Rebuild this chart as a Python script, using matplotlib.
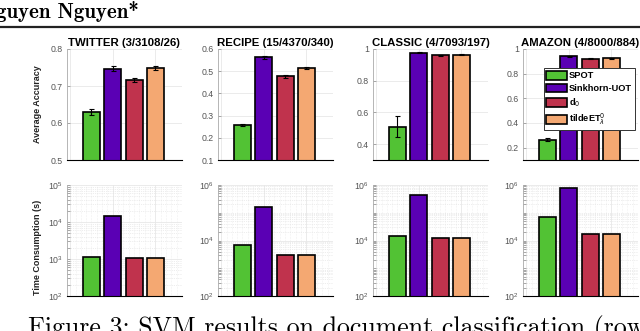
import matplotlib.pyplot as plt
import numpy as np
from matplotlib.lines import Line2D
from matplotlib.patches import Patch
from matplotlib.ticker import FixedLocator, LogLocator, NullFormatter, FormatStrFormatter

plt.rcParams['font.family'] = ['Liberation Sans', 'DejaVu Sans']

titles = ['TWITTER (3/3108/26)', 'RECIPE (15/4370/340)', 'CLASSIC (4/7093/197)', 'AMAZON (4/8000/884)']
methods = ['SPOT', 'Sinkhorn-UOT', r'd$_0$', r'tildeET$^0_\lambda$']
colors = ['#52c234', '#5a00b4', '#c0334d', '#f4a872']

# accuracy (mean, std)
acc_twitter = [0.630, 0.747, 0.716, 0.749]
err_twitter = [0.008, 0.006, 0.005, 0.005]
acc_recipe = [0.257, 0.562, 0.477, 0.515]
err_recipe = [0.006, 0.005, 0.008, 0.004]
acc_classic = [0.51, 0.975, 0.962, 0.965]
err_classic = [0.068, 0.003, 0.003, 0.002]
acc_amazon = [0.265, 0.940, 0.922, 0.925]
err_amazon = [0.012, 0.004, 0.004, 0.004]

# time consumption (s)
t_twitter = [1150, 14500, 1090, 1090]
t_recipe = [6800, 160000, 3100, 3100]
t_classic = [14700, 440000, 12500, 12500]
t_amazon = [72000, 780000, 16500, 16500]

acc_all = [acc_twitter, acc_recipe, acc_classic, acc_amazon]
err_all = [err_twitter, err_recipe, err_classic, err_amazon]
t_all = [t_twitter, t_recipe, t_classic, t_amazon]
acc_lims = [(0.5, 0.8), (0.1, 0.6), (0.3, 1.0), (0.1, 1.0)]
acc_ticks = [[0.5, 0.6, 0.7, 0.8], [0.1, 0.2, 0.3, 0.4, 0.5, 0.6],
             [0.4, 0.6, 0.8, 1.0], [0.2, 0.4, 0.6, 0.8, 1.0]]
t_lims = [(1e2, 1e5), (1e2, 1e6), (1e2, 1e6), (1e2, 1e6)]
t_ticks = [[1e2, 1e3, 1e4, 1e5], [1e2, 1e4, 1e6], [1e2, 1e4, 1e6], [1e2, 1e4, 1e6]]

W, H = 640, 331
fig = plt.figure(figsize=(6.4, 3.31), dpi=100)

lefts = [67, 218, 373, 523]
aw = 115
top_row = (49, 160)
bot_row = (185, 296)
x = np.arange(1, 5)


def make_ax(left, rows):
    t, b = rows
    return fig.add_axes([left / W, (H - b) / H, aw / W, (b - t) / H])


def style(ax):
    ax.set_xlim(-0.15, 5.25)
    ax.set_xticks([0, 2, 4])
    ax.set_xticklabels([])
    ax.tick_params(axis='x', length=0)
    ax.tick_params(axis='y', which='both', direction='in', length=2, width=0.5,
                   color='#888888', labelsize=6.3, labelcolor='#555555', pad=3)
    for s in ['top', 'right']:
        ax.spines[s].set_visible(False)
    ax.spines['left'].set_color('#aaaaaa')
    ax.spines['left'].set_linewidth(0.6)
    ax.spines['bottom'].set_color('black')
    ax.spines['bottom'].set_linewidth(0.8)
    ax.set_axisbelow(True)


for i in range(4):
    ax = make_ax(lefts[i], top_row)
    style(ax)
    ax.grid(True, color='#e8e8e8', lw=0.6)
    ax.bar(x, acc_all[i], width=0.8, color=colors, edgecolor='black', lw=1.2,
           yerr=err_all[i], error_kw=dict(ecolor='black', elinewidth=0.8, capsize=1.8, capthick=0.8))
    ax.set_ylim(*acc_lims[i])
    ax.set_yticks(acc_ticks[i])
    ax.yaxis.set_major_formatter(FormatStrFormatter('%g'))
    ax.set_title(titles[i], fontsize=8.2, fontweight='bold', pad=2.5)
    if i == 0:
        ax.set_ylabel('Average Accuracy', fontsize=6.5, fontweight='bold', color='#222222')
        ax.yaxis.set_label_coords(-0.215, 0.5)
    if i == 3:
        handles = [Patch(facecolor=c, edgecolor='black', lw=1.2) for c in colors]
        leg = ax.legend(handles, methods, loc='upper right', bbox_to_anchor=(0.97, 0.83),
                        borderaxespad=0, fancybox=False, framealpha=1, edgecolor='#333333',
                        prop=dict(size=6.7, weight='bold'), handlelength=2.2, handleheight=1.1,
                        handletextpad=0.2, labelspacing=0.35, borderpad=0.3)
        leg.get_frame().set_linewidth(0.7)

for i in range(4):
    ax = make_ax(lefts[i], bot_row)
    style(ax)
    ax.bar(x, t_all[i], width=0.8, color=colors, edgecolor='black', lw=1.2)
    ax.set_yscale('log')
    ax.set_ylim(*t_lims[i])
    ax.yaxis.set_major_locator(FixedLocator(t_ticks[i]))
    ax.yaxis.set_minor_locator(LogLocator(base=10, subs=np.arange(1, 10)))
    ax.yaxis.set_minor_formatter(NullFormatter())
    ax.grid(True, which='major', color='#e8e8e8', lw=0.6)
    ax.grid(True, which='minor', axis='y', color='#dddddd', lw=0.5, ls=':')
    ax.set_xticks(np.arange(0, 5.25, 0.25), minor=True)
    ax.grid(True, which='minor', axis='x', color='#e4e4e4', lw=0.4, ls=':')
    ax.tick_params(axis='x', which='minor', length=0)
    if i == 0:
        ax.set_ylabel('Time Consumption (s)', fontsize=6.5, fontweight='bold', color='#222222')
        ax.yaxis.set_label_coords(-0.215, 0.44)

# page context around the figure
fig.text(139 / W, 1 - 18 / H, 'guyen Nguyen*', family='cmb10', fontsize=15,
         ha='right', va='baseline')
fig.add_artist(Line2D([0, 1], [1 - 26.5 / H, 1 - 26.5 / H], color='#222222', lw=1.6))
fig.text(28 / W, 1 - 334.5 / H, 'Figure 3: SVM results on document classification (row',
         family='cmr10', fontsize=18.6, ha='left', va='baseline')

fig.savefig('out.png', dpi=100)
